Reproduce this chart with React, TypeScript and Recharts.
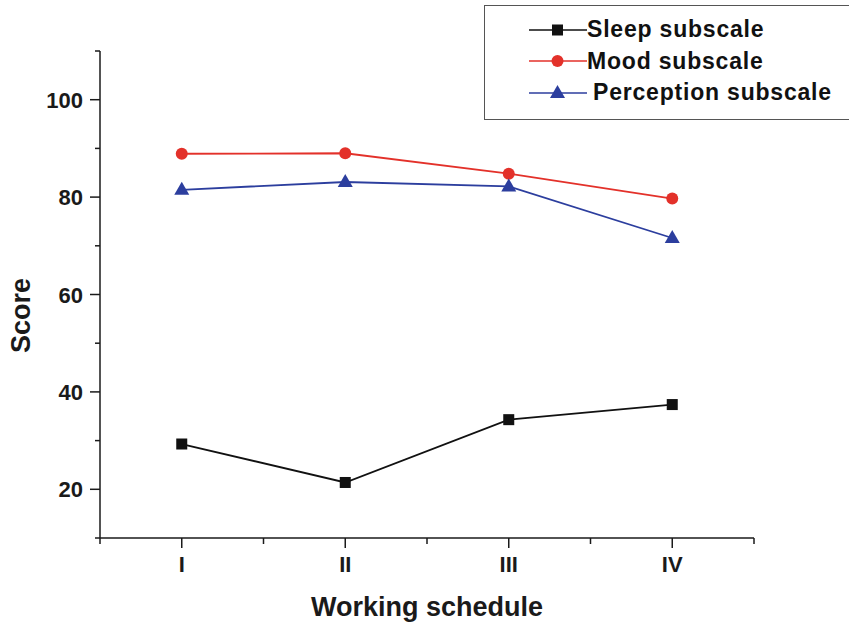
import { Legend, Line, LineChart, XAxis, YAxis } from "recharts";

const schedules = ["I", "II", "III", "IV"];
const sleepScores = [29.3, 21.4, 34.3, 37.4];
const moodScores = [88.9, 89.0, 84.8, 79.7];
const perceptionScores = [81.5, 83.1, 82.2, 71.6];
const xTicks = [0.5, 1, 1.5, 2, 2.5, 3, 3.5, 4, 4.5];
const yTicks = [10, 20, 30, 40, 50, 60, 70, 80, 90, 100, 110];

const data = schedules.map((s, i) => ({
  x: i + 1,
  label: s,
  sleep: sleepScores[i],
  mood: moodScores[i],
  perception: perceptionScores[i],
}));

const FONT = "'Liberation Sans', Arial, sans-serif";
const AXIS = "#1a1a1a";
const SLEEP = "#111111";
const MOOD = "#e3312a";
const PERC = "#2c3e9e";

const Square = (props: any) => {
  const { cx, cy } = props;
  if (cx == null || cy == null) return null;
  return <rect x={cx - 5.5} y={cy - 5.5} width={11} height={11} fill={SLEEP} />;
};

const Triangle = (props: any) => {
  const { cx, cy } = props;
  if (cx == null || cy == null) return null;
  return (
    <polygon
      points={`${cx},${cy - 8} ${cx - 7.5},${cy + 5} ${cx + 7.5},${cy + 5}`}
      fill={PERC}
    />
  );
};

const XTick = (props: any) => {
  const { x, y, payload } = props;
  const v = payload.value;
  const major = Number.isInteger(v);
  return (
    <g>
      <line x1={x} x2={x} y1={y} y2={y + (major ? 10 : 6)} stroke={AXIS} strokeWidth={1.5} />
      {major && (
        <text x={x} y={y + 34} textAnchor="middle" fontSize={22} fontWeight="bold" fill={AXIS} fontFamily={FONT}>
          {schedules[v - 1]}
        </text>
      )}
    </g>
  );
};

const YTick = (props: any) => {
  const { x, y, payload } = props;
  const v = payload.value;
  const major = v % 20 === 0;
  return (
    <g>
      <line x1={x} x2={x - (major ? 10 : 5)} y1={y} y2={y} stroke={AXIS} strokeWidth={1.5} />
      {major && (
        <text x={x - 17} y={y + 8} textAnchor="end" fontSize={22} fontWeight="bold" fill={AXIS} fontFamily={FONT}>
          {v}
        </text>
      )}
    </g>
  );
};

// y title sits a bit below the plot's middle in the original
const ScoreLabel = (props: any) => {
  const vb = props.viewBox || {};
  const cx = (vb.x ?? 0) + 30;
  const cy = (vb.y ?? 0) + (vb.height ?? 0) / 2 + 21;
  return (
    <text
      x={cx}
      y={cy}
      transform={`rotate(-90 ${cx} ${cy})`}
      textAnchor="middle"
      fontSize={27}
      fontWeight="bold"
      fill={AXIS}
      fontFamily={FONT}
    >
      Score
    </text>
  );
};

const legendItems = [
  { name: "Sleep subscale", color: SLEEP, shape: "square", gap: 0 },
  { name: "Mood subscale", color: MOOD, shape: "circle", gap: 0 },
  { name: "Perception subscale", color: PERC, shape: "triangle", gap: 6 },
];

const LegendBox = () => (
  <div
    style={{
      border: "1px solid #555",
      width: 370,
      height: 115,
      boxSizing: "border-box",
      paddingTop: 8,
      background: "#fff",
    }}
  >
    {legendItems.map((it) => (
      <div key={it.name} style={{ display: "flex", alignItems: "center", height: 31.5 }}>
        <svg width={102} height={24} style={{ flex: "none" }}>
          <line x1={44} x2={102} y1={12} y2={12} stroke={it.color} strokeWidth={1.5} />
          {it.shape === "square" && <rect x={67} y={6.5} width={11} height={11} fill={it.color} />}
          {it.shape === "circle" && <circle cx={72.5} cy={12} r={6} fill={it.color} />}
          {it.shape === "triangle" && <polygon points="72.5,4 65,17 80,17" fill={it.color} />}
        </svg>
        <span
          style={{
            fontFamily: FONT,
            fontWeight: "bold",
            fontSize: 23,
            letterSpacing: 0.8,
            color: "#111",
            marginLeft: it.gap,
            whiteSpace: "nowrap",
          }}
        >
          {it.name}
        </span>
      </div>
    ))}
  </div>
);

export default function App() {
  return (
    <div style={{ position: "absolute", left: 0, top: 0, background: "#fff" }}>
      <LineChart
        width={849}
        height={623}
        data={data}
        margin={{ top: 51, right: 95, bottom: 0, left: 0 }}
      >
        <XAxis
          dataKey="x"
          type="number"
          domain={[0.5, 4.5]}
          ticks={xTicks}
          interval={0}
          tickSize={0}
          tickMargin={0}
          tickLine={false}
          tick={<XTick />}
          height={85}
          axisLine={{ stroke: AXIS, strokeWidth: 1.5 }}
          label={{
            value: "Working schedule",
            position: "insideBottom",
            offset: 7,
            fontSize: 27,
            fontWeight: "bold",
            fill: AXIS,
            fontFamily: FONT,
          }}
        />
        <YAxis
          type="number"
          domain={[10, 110]}
          ticks={yTicks}
          interval={0}
          tickSize={0}
          tickMargin={0}
          tickLine={false}
          tick={<YTick />}
          width={100}
          axisLine={{ stroke: AXIS, strokeWidth: 1.5 }}
          label={<ScoreLabel />}
        />
        <Legend
          layout="horizontal"
          verticalAlign="middle"
          align="center"
          content={<LegendBox />}
          wrapperStyle={{ top: 5, left: 484, width: 370, height: 115 }}
        />
        <Line
          dataKey="sleep"
          name="Sleep subscale"
          stroke={SLEEP}
          strokeWidth={1.8}
          dot={<Square />}
          activeDot={false}
          isAnimationActive={false}
        />
        <Line
          dataKey="mood"
          name="Mood subscale"
          stroke={MOOD}
          strokeWidth={1.8}
          dot={{ r: 6, fill: MOOD, stroke: "none" }}
          activeDot={false}
          isAnimationActive={false}
        />
        <Line
          dataKey="perception"
          name="Perception subscale"
          stroke={PERC}
          strokeWidth={1.8}
          dot={<Triangle />}
          activeDot={false}
          isAnimationActive={false}
        />
      </LineChart>
    </div>
  );
}
